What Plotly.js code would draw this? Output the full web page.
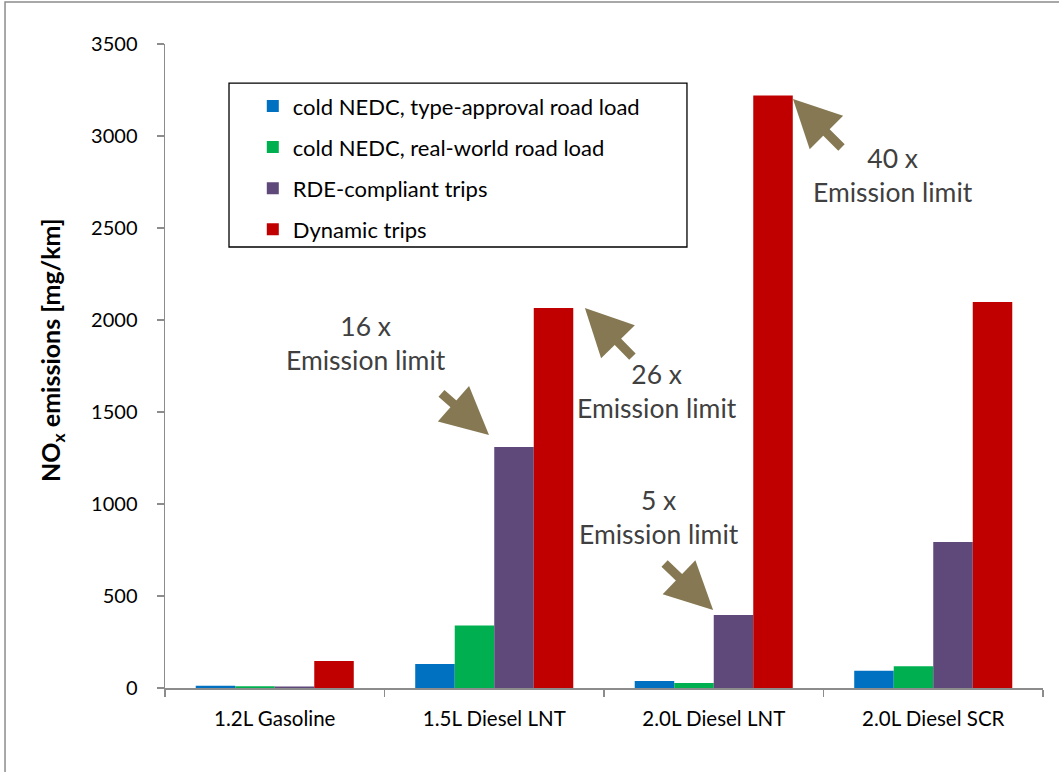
<!DOCTYPE html>
<html>
<head>
<meta charset="utf-8">
<script src="https://cdn.plot.ly/plotly-3.0.1.min.js"></script>
<style>html,body{margin:0;padding:0;background:#fff;}#chart{width:1059px;height:772px;}</style>
</head>
<body>
<div id="chart"></div>
<script>
const categories = ["1.2L Gasoline", "1.5L Diesel LNT", "2.0L Diesel LNT", "2.0L Diesel SCR"];
const seriesNames = ["cold NEDC, type-approval road load", "cold NEDC, real-world road load", "RDE-compliant trips", "Dynamic trips"];
const coldTA = [12, 130, 38, 94];
const coldRW = [9, 340, 27, 118];
const rdeTrips = [8, 1310, 397, 793];
const dynamicTrips = [147, 2065, 3220, 2098];
const seriesColors = ["#0070C0", "#00B050", "#5F497A", "#C00000"];
const yTitle = "NO<sub>x</sub> emissions [mg/km]";
const calloutLines = ["16 x<br>Emission limit", "26 x<br>Emission limit", "5 x<br>Emission limit", "40 x<br>Emission limit"];

const allSeries = [coldTA, coldRW, rdeTrips, dynamicTrips];
const FONT = "Lato, 'Open Sans', sans-serif";

const traces = allSeries.map((vals, i) => ({
  type: "bar",
  name: seriesNames[i],
  x: categories,
  y: vals,
  marker: {color: seriesColors[i], line: {width: 0}},
  legendgroup: "g" + i,
  hoverinfo: "x+y+name"
}));

const arrowColor = "#857852";
function arrow(x, y, ax, ay) {
  return {x: x, y: y, xref: "x", yref: "y", text: "", showarrow: true,
    ax: ax, ay: ay, arrowcolor: arrowColor, arrowwidth: 9, arrowhead: 2, arrowsize: 1.05, standoff: 0};
}
function label(x, y, t) {
  return {x: x, y: y, xref: "x", yref: "y", text: t, showarrow: false,
    font: {family: FONT, size: 26.5, color: "#404040"}, align: "center"};
}

const layout = {
  width: 1059, height: 772,
  margin: {l: 165, r: 16, t: 44, b: 84},
  paper_bgcolor: "#ffffff", plot_bgcolor: "#ffffff",
  barmode: "group", bargap: 0.28, bargroupgap: 0,
  showlegend: true,
  legend: {
    x: 0.1, y: 0.936, xanchor: "left", yanchor: "top",
    bgcolor: "rgba(0,0,0,0)", borderwidth: 0,
    font: {family: FONT, size: 22, color: "#000"},
    traceorder: "grouped", tracegroupgap: 9.5
  },
  xaxis: {
    type: "category", showline: true, linecolor: "#8c8c8c", linewidth: 1.5,
    ticks: "outside", tickson: "boundaries", ticklen: 7, tickcolor: "#8c8c8c", tickwidth: 1.5,
    tickfont: {family: FONT, size: 20.5, color: "#000"}, ticklabelstandoff: 12,
    showgrid: false, zeroline: false, fixedrange: true
  },
  yaxis: {
    range: [0, 3500], dtick: 500, tick0: 0, showline: true, linecolor: "#8c8c8c", linewidth: 1.5,
    ticks: "outside", ticklen: 7, tickcolor: "#8c8c8c", tickwidth: 1.5,
    tickfont: {family: FONT, size: 20, color: "#000"}, ticklabelstandoff: 15,
    showgrid: false, zeroline: false, fixedrange: true
  },
  shapes: [
    {type: "rect", xref: "paper", yref: "paper", x0: 0.0729, x1: 0.5945, y0: 0.6848, y1: 0.9394,
     line: {color: "#000", width: 1.3}, fillcolor: "rgba(0,0,0,0)", layer: "above"},
    {type: "path", xref: "paper", yref: "paper", path: "M -0.1822,-0.3 L -0.1822,1.0652 L 1.2,1.0652",
     line: {color: "#8c8c8c", width: 1.5}, layer: "below"}
  ],
  annotations: [
    label(0.416, 1875, calloutLines[0]),
    label(1.741, 1614, calloutLines[1]),
    label(1.75, 929, calloutLines[2]),
    label(2.817, 2788, calloutLines[3]),
    arrow(0.976, 1375, -49, -43),
    arrow(1.413, 2065, 49, 50),
    arrow(1.997, 424, -50, -48),
    arrow(2.361, 3201, 50, 50),
    {x: -0.1287, y: 0.525, xref: "paper", yref: "paper", xanchor: "center", yanchor: "middle",
     text: yTitle, showarrow: false, textangle: -90,
     font: {family: FONT, size: 25, color: "#000", weight: "bold"}}
  ]
};

Plotly.newPlot("chart", traces, layout, {displayModeBar: false, staticPlot: true});
</script>
</body>
</html>
